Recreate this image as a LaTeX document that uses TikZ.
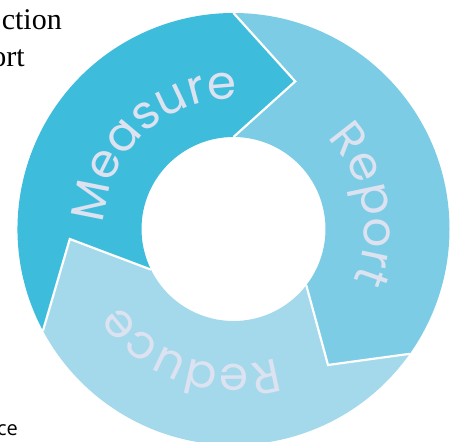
\documentclass[tikz,border=0pt]{standalone}
\usepackage{fontspec}
\setmainfont{Liberation Serif}
\newfontfamily\popfont{Poppins}
\newfontfamily\osfont{Open Sans}
\usetikzlibrary{decorations.text}
\definecolor{measurec}{HTML}{3EBCDB}
\definecolor{reportc}{HTML}{7BCCE4}
\definecolor{reducec}{HTML}{A4D9EC}
\definecolor{labelc}{HTML}{DCE2F0}
\tikzset{
  seam/.style={draw=white, line width=2.2pt, line join=miter},
  ringlabel/.style={decorate, decoration={text along path, text align=center,
      text color=labelc, text={#1}}},
  cutlabel/.style={anchor=base east, inner sep=0pt, text=black}
}
\begin{document}
\begin{tikzpicture}[x=1pt,y=1pt]
\useasboundingbox (-233.5,-212) rectangle (223.5,229);
\clip (-233.5,-212) rectangle (223.5,229);
\coordinate (c) at (0,0);
\coordinate (mo) at (90:216);
\coordinate (mt) at (67.3:160);
\coordinate (mi) at (90:92);
\coordinate (ro) at (-35.3:216);
\coordinate (rt) at (-55.2:165.6);
\coordinate (ri) at (-37.7:92);
\coordinate (do) at (208.1:216);
\coordinate (dt) at (183.5:164);
\coordinate (di) at (206.2:92);
% segments
\fill[measurec] (do) arc[start angle=208.1, end angle=90, radius=216] -- (mt) -- (mi)
  arc[start angle=90, end angle=206.2, radius=92] -- (dt) -- cycle;
\fill[reportc] (mo) arc[start angle=90, end angle=-35.3, radius=216] -- (rt) -- (ri)
  arc[start angle=-37.7, end angle=90, radius=92] -- (mt) -- cycle;
\fill[reducec] (ro) arc[start angle=-35.3, end angle=-151.9, radius=216] -- (dt) -- (di)
  arc[start angle=-153.8, end angle=-37.7, radius=92] -- (rt) -- cycle;
% seams
\draw[seam] (mo) -- (mt) -- (mi);
\draw[seam] (ro) -- (rt) -- (ri);
\draw[seam] (do) -- (dt) -- (di);
% ring labels
\path[ringlabel={|\popfont\fontsize{47}{47}\selectfont|Measure}]
  (223:130) arc[start angle=223, end angle=43, radius=130];
\path[ringlabel={|\popfont\fontsize{47}{47}\selectfont|Report}]
  (99:131) arc[start angle=99, end angle=-78, radius=131];
\path[ringlabel={|\popfont\fontsize{47}{47}\selectfont|Reduce}]
  (-20:136) arc[start angle=-20, end angle=-198, radius=136];
% cropped side texts
\node[cutlabel, font=\fontsize{30}{30}\selectfont] (t1) at (-171.5,199) {ction};
\node[cutlabel, font=\fontsize{30}{30}\selectfont] (t2) at (-208.5,162) {ort};
\node[cutlabel, font=\osfont\fontsize{20}{20}\selectfont] (t3) at (-215.5,-206) {ce};
\end{tikzpicture}
\end{document}
